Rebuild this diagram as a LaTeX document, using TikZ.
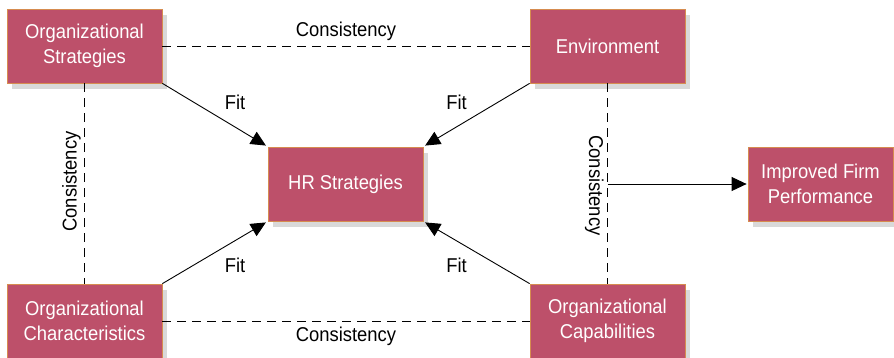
\documentclass[tikz,border=0pt]{standalone}
\usepackage{fontspec}
\setmainfont[FakeStretch=0.92]{Liberation Sans}
\usepackage{tikz}
\usetikzlibrary{arrows.meta,shadows,positioning}
\definecolor{boxrose}{RGB}{189,80,106}
\definecolor{boxedge}{RGB}{214,140,80}

\begin{document}
\begin{tikzpicture}[x=1pt,y=-1pt,
        box/.style={draw=boxedge,line width=0.8pt,fill=boxrose,text=white,font=\fontsize{20}{25}\selectfont,
            align=center,minimum width=155pt,minimum height=74pt,inner sep=0pt,
            drop shadow={shadow xshift=5pt,shadow yshift=-6pt,opacity=0.3,fill=gray}},
        fit/.style={line width=0.9pt,-{Triangle[length=15pt,width=14pt]},shorten >=2pt},
        cons/.style={line width=0.9pt,dash pattern=on 9pt off 6pt},
        lbl/.style={font=\fontsize{20}{24}\selectfont}]
        \useasboundingbox (0,0) rectangle (894,357);

        \node[box] (orgstr) at (84.5,46) {Organizational\\Strategies};
        \node[box] (env) at (607.5,46) {Environment};
        \node[box] (hr) at (345.5,184) {HR Strategies};
        \node[box] (orgchar) at (84.5,321) {Organizational\\Characteristics};
        \node[box] (orgcap) at (607.5,321) {Organizational\\Capabilities};
        \node[box,minimum width=145pt] (perf) at (820.5,184) {Improved Firm\\Performance};

        \draw[cons] (orgstr) -- node [lbl,above=2pt] {Consistency} (env);
        \draw[cons] (orgchar) -- node [lbl,below=2pt] {Consistency} (orgcap);
        \draw[cons] (orgstr) -- node [lbl,rotate=90,above=2pt] {Consistency} (orgchar);
        \draw[cons] (env) -- node [lbl,rotate=-90,below=2pt] (conslbl) {Consistency} (orgcap);

        \coordinate (split) at (env.south |- perf.west);
        \draw[fit,shorten >=1pt] (split) -- (perf.west);

        \draw[fit] (orgstr.south east) -- node [lbl,above right=2pt and 6pt] {Fit} (hr.north west);
        \draw[fit] (env.south west) -- node [lbl,above left=2pt and 6pt] {Fit} (hr.north east);
        \draw[fit] (orgchar.north east) -- node [lbl,below right=2pt and 6pt] {Fit} (hr.south west);
        \draw[fit] (orgcap.north west) -- node [lbl,below left=2pt and 6pt] {Fit} (hr.south east);
\end{tikzpicture}
\end{document}
